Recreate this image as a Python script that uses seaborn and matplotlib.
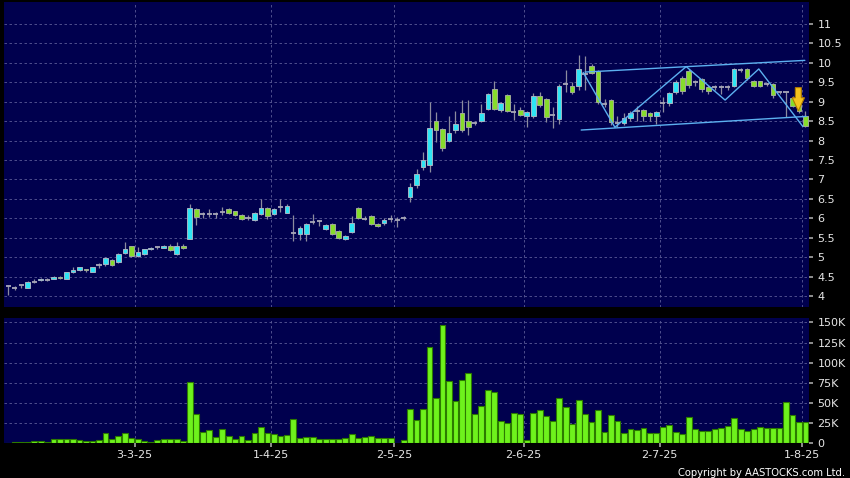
import matplotlib
matplotlib.use('Agg')
import matplotlib.pyplot as plt
from matplotlib.patches import Polygon
import numpy as np
import pandas as pd
import seaborn as sns

# trading calendar (HK), Feb 3 2025 - Aug 1 2025
hk_holidays = ['2025-04-04', '2025-04-18', '2025-04-21', '2025-05-01', '2025-05-05', '2025-07-01']

# daily candles
opens = [4.26, 4.21, 4.28, 4.22, 4.37, 4.41, 4.42, 4.45, 4.50, 4.45,
         4.62, 4.67, 4.70, 4.63, 4.79, 4.82, 4.92, 4.88, 5.11, 5.28,
         5.02, 5.09, 5.20, 5.26, 5.25, 5.30, 5.09, 5.30, 5.48, 6.25,
         6.10, 6.12, 6.10, 6.16, 6.25, 6.19, 6.08, 6.02, 5.95, 6.10,
         6.27, 6.10, 6.30, 6.15, 5.63, 5.59, 5.60, 5.90, 5.93, 5.73,
         5.86, 5.68, 5.48, 5.65, 6.27, 5.99, 6.05, 5.86, 5.88, 5.99,
         5.97, 6.00, 6.56, 6.85, 7.33, 7.36, 8.49, 8.30, 7.98, 8.26,
         8.71, 8.50, 8.44, 8.50, 8.81, 9.32, 8.79, 9.18, 8.73, 8.79,
         8.64, 8.62, 9.15, 9.07, 8.66, 8.56, 9.45, 9.41, 9.41, 9.70,
         9.92, 9.78, 8.94, 9.04, 8.44, 8.44, 8.57, 8.77, 8.79, 8.71,
         8.64, 8.96, 8.96, 9.24, 9.60, 9.78, 9.50, 9.58, 9.38, 9.37,
         9.38, 9.37, 9.41, 9.81, 9.84, 9.52, 9.52, 9.45, 9.45, 9.24,
         9.24, 9.10, 8.94, 8.64]
highs = [4.28, 4.25, 4.30, 4.38, 4.43, 4.47, 4.47, 4.52, 4.51, 4.62,
         4.74, 4.75, 4.71, 4.75, 4.84, 5.00, 4.95, 5.12, 5.39, 5.30,
         5.27, 5.22, 5.27, 5.30, 5.32, 5.33, 5.38, 5.33, 6.37, 6.27,
         6.16, 6.25, 6.16, 6.29, 6.27, 6.20, 6.10, 6.08, 6.16, 6.50,
         6.29, 6.27, 6.50, 6.36, 6.08, 5.80, 5.88, 6.10, 5.97, 5.85,
         5.88, 5.70, 5.57, 6.07, 6.30, 6.05, 6.08, 5.88, 6.00, 6.08,
         6.03, 6.05, 6.90, 7.26, 7.70, 8.98, 8.73, 8.32, 8.64, 8.77,
         9.03, 9.03, 8.50, 8.94, 9.22, 9.54, 9.00, 9.20, 8.94, 8.87,
         8.77, 9.22, 9.26, 9.10, 8.85, 9.45, 9.80, 9.50, 10.20, 10.17,
         9.97, 9.80, 9.07, 9.06, 8.63, 8.72, 8.76, 8.90, 8.82, 8.74,
         8.77, 9.12, 9.24, 9.55, 9.65, 9.83, 9.55, 9.60, 9.42, 9.42,
         9.42, 9.42, 9.87, 9.87, 9.87, 9.55, 9.54, 9.48, 9.47, 9.26,
         9.26, 9.15, 8.96, 8.75]
lows = [4.03, 4.16, 4.20, 4.20, 4.33, 4.40, 4.40, 4.43, 4.45, 4.44,
        4.60, 4.64, 4.63, 4.62, 4.72, 4.78, 4.78, 4.86, 5.08, 5.00,
        5.00, 5.07, 5.18, 5.20, 5.23, 5.16, 5.07, 5.20, 5.46, 5.83,
        6.02, 6.04, 6.00, 6.08, 6.10, 6.05, 5.96, 5.96, 5.93, 6.08,
        5.98, 6.08, 6.16, 6.13, 5.42, 5.44, 5.42, 5.85, 5.80, 5.70,
        5.58, 5.48, 5.45, 5.62, 5.99, 5.95, 5.83, 5.78, 5.84, 5.90,
        5.78, 5.95, 6.42, 6.78, 7.25, 7.19, 7.96, 7.74, 7.95, 8.20,
        8.22, 8.13, 8.40, 8.47, 8.78, 8.78, 8.74, 8.74, 8.54, 8.63,
        8.36, 8.58, 8.85, 8.47, 8.32, 8.42, 9.24, 9.20, 9.30, 9.30,
        9.70, 8.95, 8.86, 8.40, 8.34, 8.40, 8.50, 8.51, 8.50, 8.50,
        8.43, 8.74, 8.90, 9.20, 9.20, 9.35, 9.40, 9.25, 9.20, 9.30,
        9.20, 9.30, 9.38, 9.75, 9.55, 9.38, 9.38, 9.40, 9.10, 9.20,
        8.60, 8.85, 8.70, 8.35]
closes = [4.26, 4.21, 4.28, 4.37, 4.37, 4.45, 4.42, 4.50, 4.47, 4.61,
          4.67, 4.74, 4.66, 4.74, 4.79, 4.97, 4.81, 5.08, 5.20, 5.03,
          5.13, 5.20, 5.25, 5.26, 5.30, 5.18, 5.30, 5.23, 6.27, 6.03,
          6.10, 6.12, 6.10, 6.16, 6.14, 6.09, 5.99, 6.02, 6.14, 6.27,
          6.05, 6.25, 6.30, 6.33, 5.63, 5.76, 5.85, 5.90, 5.93, 5.82,
          5.60, 5.50, 5.55, 5.89, 6.02, 5.99, 5.86, 5.80, 5.96, 5.99,
          5.97, 6.00, 6.80, 7.13, 7.49, 8.32, 8.28, 7.80, 8.20, 8.43,
          8.28, 8.34, 8.44, 8.71, 9.20, 8.81, 8.97, 8.77, 8.73, 8.66,
          8.74, 9.15, 8.91, 8.60, 8.66, 9.41, 9.45, 9.24, 9.84, 9.70,
          9.73, 8.98, 8.94, 8.47, 8.44, 8.57, 8.70, 8.77, 8.64, 8.64,
          8.74, 8.96, 9.22, 9.50, 9.28, 9.43, 9.50, 9.32, 9.28, 9.37,
          9.38, 9.37, 9.84, 9.81, 9.60, 9.41, 9.41, 9.45, 9.18, 9.24,
          9.24, 8.90, 8.77, 8.38]
# volume in thousands of shares
volumes_k = [1.2, 2, 2, 2, 3, 3, 1.7, 5.4, 5, 5.4,
             5.4, 4, 3, 3.7, 4.5, 13.6, 5, 9, 12.8, 6.6,
             5.8, 3.3, 2, 4.5, 5.4, 5, 5.8, 3.3, 76.5, 36.8,
             14.5, 16.5, 8.3, 17.8, 9.5, 5.4, 9.5, 4, 13.6, 20.7,
             13.6, 11.6, 9.5, 10.8, 30, 7.4, 7.9, 7.9, 5.4, 5.4,
             5.4, 5.4, 6.2, 11.2, 6.6, 7.9, 8.7, 7, 6.6, 7,
             1.2, 4, 43, 29, 42.6, 120, 56.7, 146.8, 77.3, 52.5,
             78.6, 86.8, 36.4, 46.3, 66.2, 63.7, 27.7, 24.8, 37.2, 36,
             4, 37.2, 41.4, 33.9, 27.7, 55.8, 45.5, 24, 53.8, 36,
             26, 41.4, 14.5, 35, 28, 12.4, 17.8, 16.5, 18.6, 13.6,
             12.4, 20.7, 22.7, 14.5, 11.6, 32.3, 17.4, 14.9, 15.7, 17.8,
             18.6, 21.9, 31, 17.8, 15.3, 17.8, 19.9, 18.6, 18.6, 18.6,
             50.9, 35, 26, 26]

# drawn trend lines (day index, price)
channel_top = ([89, 122.9], [9.76, 10.06])
channel_bottom = ([88.4, 123.1], [8.27, 8.62])
zigzag = ([88.7, 93.6, 104.6, 110.6, 115.8, 122.6], [9.75, 8.34, 9.90, 9.04, 9.84, 8.36])

price_ticks = np.arange(4, 11.01, 0.5)
vol_ticks = [0, 25, 50, 75, 100, 125, 150]

navy = '#00004e'
grid_c = '#5a5a96'
cyan = '#2ee4f4'
green = '#86dc2c'
vol_green = '#6ef21c'
text_c = '#e6e6e6'

days = pd.bdate_range('2025-02-03', '2025-08-01')
days = days[~days.isin(pd.to_datetime(hk_holidays))]
df = pd.DataFrame({'date': days, 'open': opens, 'high': highs, 'low': lows,
                   'close': closes, 'volume': volumes_k})
df['i'] = np.arange(len(df))
first_of_month = df.groupby(df['date'].dt.to_period('M'))['i'].min().iloc[1:]
month_pos = first_of_month.values - 0.5
month_labels = [f"{d.day}-{d.month}-{d:%y}" for d in df.loc[first_of_month.values, 'date']]

sns.set_theme(style='dark', rc={'axes.facecolor': navy, 'figure.facecolor': 'black'})
plt.rcParams['font.family'] = ['DejaVu Sans']

fig = plt.figure(figsize=(8.5, 4.78), dpi=100, facecolor='black')
ax = fig.add_axes([0.0047, 0.3584, 0.9471, 0.6374])
ax_vol = fig.add_axes([0.0047, 0.0722, 0.9471, 0.2619])

xlim = (-0.65, 123.55)

for a in (ax, ax_vol):
    a.set_facecolor(navy)
    for s in a.spines.values():
        s.set_visible(False)
    a.set_xlim(*xlim)
    a.set_xticks(month_pos)
    a.grid(True, color=grid_c, linestyle=(0, (3, 3)), linewidth=0.6)
    a.set_axisbelow(True)
    a.yaxis.tick_right()
    a.tick_params(axis='y', colors='#a0a0a0', labelcolor=text_c, labelsize=8, length=3, pad=3,
                  left=False, right=True)

# candles
up = df[df['close'] > df['open']]
down = df[df['close'] < df['open']]
flat = df[df['close'] == df['open']]
ax.vlines(df['i'], df['low'], df['high'], color='#8c8c9e', linewidth=0.9, zorder=2)
ax.bar(up['i'], up['close'] - up['open'], bottom=up['open'], width=0.72,
       color=cyan, edgecolor='#a4b4c4', linewidth=0.7, zorder=3)
ax.bar(down['i'], down['open'] - down['close'], bottom=down['close'], width=0.72,
       color=green, edgecolor='#a0aa96', linewidth=0.7, zorder=3)
ax.hlines(flat['close'], flat['i'] - 0.4, flat['i'] + 0.4, color='#a8a8b8', linewidth=1.3, zorder=3)

line_c = '#5cb0f0'
ax.plot(*channel_top, color=line_c, linewidth=1, zorder=4)
ax.plot(*channel_bottom, color=line_c, linewidth=1, zorder=4)
ax.plot(*zigzag, color=line_c, linewidth=1, zorder=4)

# down arrow marker
ax_x, top_y, neck_y, tip_y = 121.9, 9.36, 9.1, 8.76
arrow = Polygon([(ax_x - 0.46, top_y), (ax_x + 0.46, top_y), (ax_x + 0.46, neck_y),
                 (ax_x + 0.95, neck_y), (ax_x, tip_y), (ax_x - 0.95, neck_y),
                 (ax_x - 0.46, neck_y)], closed=True, facecolor='#f4c21e',
                edgecolor='#b07a00', linewidth=0.8, zorder=5)
ax.add_patch(arrow)

ax.set_ylim(3.73, 11.56)
ax.set_yticks(price_ticks)
ax.set_yticklabels([f'{v:g}' for v in price_ticks])
ax.tick_params(axis='x', length=0, labelbottom=False)
ax.set_xlabel('')
ax.set_ylabel('')

# volume
sns.barplot(data=df, x='i', y='volume', native_scale=True, color=vol_green, saturation=1,
            edgecolor='#2c7a00', linewidth=0.8, width=0.9, errorbar=None, ax=ax_vol, zorder=3)
ax_vol.set_xlim(*xlim)
ax_vol.set_ylim(0, 155)
ax_vol.set_yticks(vol_ticks)
ax_vol.set_yticklabels(['0'] + [f'{v}K' for v in vol_ticks[1:]])
ax_vol.set_xticks(month_pos)
ax_vol.set_xticklabels(month_labels)
ax_vol.tick_params(axis='x', colors='#a0a0a0', labelcolor=text_c, labelsize=8, length=3,
                   pad=2, bottom=True)
ax_vol.set_xlabel('')
ax_vol.set_ylabel('')

fig.text(0.994, 0.011, 'Copyright by AASTOCKS.com Ltd.', ha='right', va='center',
         color='white', fontsize=7.2)

fig.savefig('out.png', dpi=100, facecolor='black')
